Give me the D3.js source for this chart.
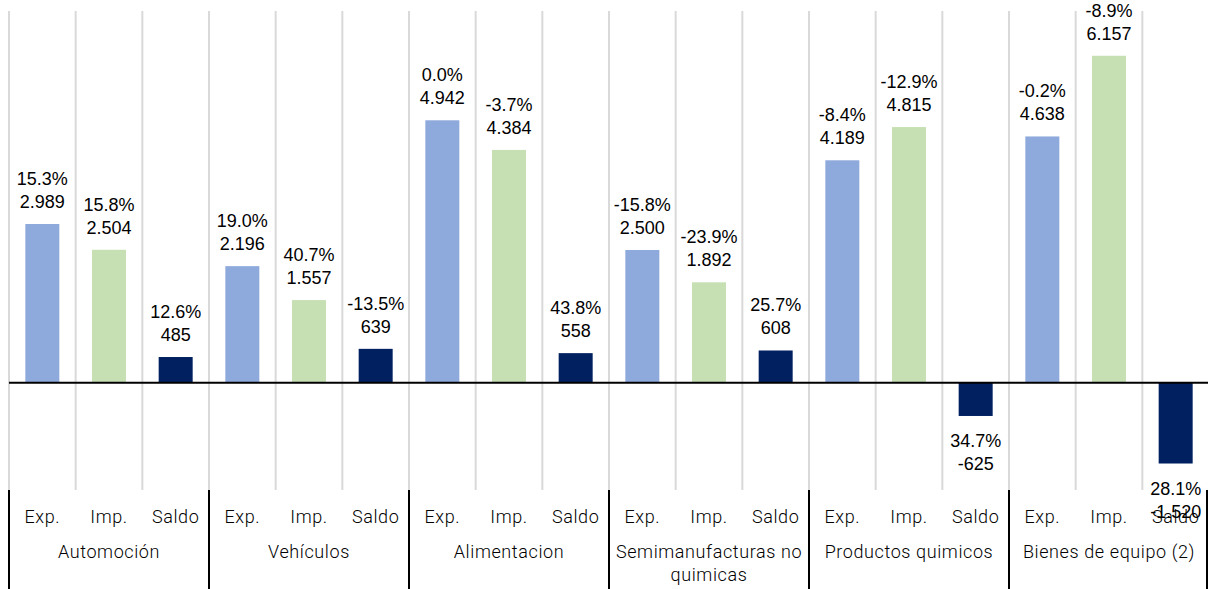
<!DOCTYPE html>
<html><head><meta charset="utf-8">
<script src="https://cdn.jsdelivr.net/npm/d3@7"></script>
<style>body{margin:0;background:#fff}svg{display:block}</style>
</head><body><svg id="c" width="1208" height="589"></svg>
<script>
const categories = ["Automoción","Vehículos","Alimentacion","Semimanufacturas no quimicas","Productos quimicos","Bienes de equipo (2)"];
const subLabels = ["Exp.","Imp.","Saldo"];
const expValues = [2989,2196,4942,2500,4189,4638];
const impValues = [2504,1557,4384,1892,4815,6157];
const saldoValues = [485,639,558,608,-625,-1520];
const expPct = ["15.3%","19.0%","0.0%","-15.8%","-8.4%","-0.2%"];
const impPct = ["15.8%","40.7%","-3.7%","-23.9%","-12.9%","-8.9%"];
const saldoPct = ["12.6%","-13.5%","43.8%","25.7%","34.7%","28.1%"];
const colors = ["#8EA9DB","#C6E0B4","#002060"];

(function(){
const svg = d3.select("#c");
const pL = 9, pR = 1209, pT = 11, pB = 489;
const slots = [];
categories.forEach((c,i)=>{
  [expValues,impValues,saldoValues].forEach((arr,j)=>{
    const pct=[expPct,impPct,saldoPct][j][i];
    slots.push({cat:c,ci:i,si:j,key:i+"-"+j,v:arr[i],pct:pct});
  });
});
const x = d3.scaleBand().domain(slots.map(d=>d.key)).range([pL,pR]).paddingInner(0).paddingOuter(0);
const y = d3.scaleLinear().domain([-2000,7000]).range([pB,pT]);
const bw = 34;
const loc = d3.formatLocale({decimal:",",thousands:".",grouping:[3],currency:["","€"],minus:"-"});
const fmt = loc.format(",d");

// gridlines
const g = svg.append("g");
d3.range(slots.length+1).forEach(k=>{
  const xx = pL + k*x.bandwidth();
  g.append("line").attr("x1",xx).attr("x2",xx).attr("y1",pT).attr("y2",pB+1)
   .attr("stroke","#D9D9D9").attr("stroke-width",2);
});
// bars
svg.append("g").selectAll("rect").data(slots).join("rect")
  .attr("x",d=>x(d.key)+x.bandwidth()/2-bw/2).attr("width",bw)
  .attr("y",d=>y(Math.max(0,d.v))).attr("height",d=>Math.abs(y(d.v)-y(0)))
  .attr("fill",d=>colors[d.si]);
// zero line
svg.append("line").attr("x1",pL).attr("x2",1208).attr("y1",y(0)).attr("y2",y(0))
  .attr("stroke","#000").attr("stroke-width",2);
// value labels
const lab = svg.append("g").attr("font-family","'Liberation Sans',Arial,sans-serif").attr("font-size",18).attr("fill","#000").attr("text-anchor","middle");
slots.forEach(d=>{
  const cx = x(d.key)+x.bandwidth()/2;
  const yb = y(d.v);
  if(d.v>=0){
    lab.append("text").attr("x",cx).attr("y",yb-39).text(d.pct);
    lab.append("text").attr("x",cx).attr("y",yb-16).text(fmt(d.v));
  } else {
    lab.append("text").attr("x",cx).attr("y",yb+31).text(d.pct);
    lab.append("text").attr("x",cx).attr("y",yb+54).text(fmt(d.v));
  }
});
// category axis
const ax = svg.append("g").attr("font-family","Roboto,'DejaVu Sans',sans-serif").attr("font-size",18).attr("font-weight",300).attr("letter-spacing",0.6).attr("fill","#000").attr("text-anchor","middle");
slots.forEach(d=>{
  ax.append("text").attr("x",x(d.key)+x.bandwidth()/2).attr("y",523).text(subLabels[d.si]);
});
const cw = x.bandwidth()*3;
categories.forEach((c,i)=>{
  const cx = pL + cw*i + cw/2;
  if(c==="Semimanufacturas no quimicas"){
    ax.append("text").attr("x",cx).attr("y",558).text("Semimanufacturas no");
    ax.append("text").attr("x",cx).attr("y",581).text("quimicas");
  } else {
    ax.append("text").attr("x",cx).attr("y",558).text(c);
  }
});
d3.range(categories.length+1).forEach(k=>{
  const xx = Math.min(pL + cw*k, 1207);
  svg.append("line").attr("x1",xx).attr("x2",xx).attr("y1",490).attr("y2",589)
    .attr("stroke","#000").attr("stroke-width",2);
});
})();
</script></body></html>
